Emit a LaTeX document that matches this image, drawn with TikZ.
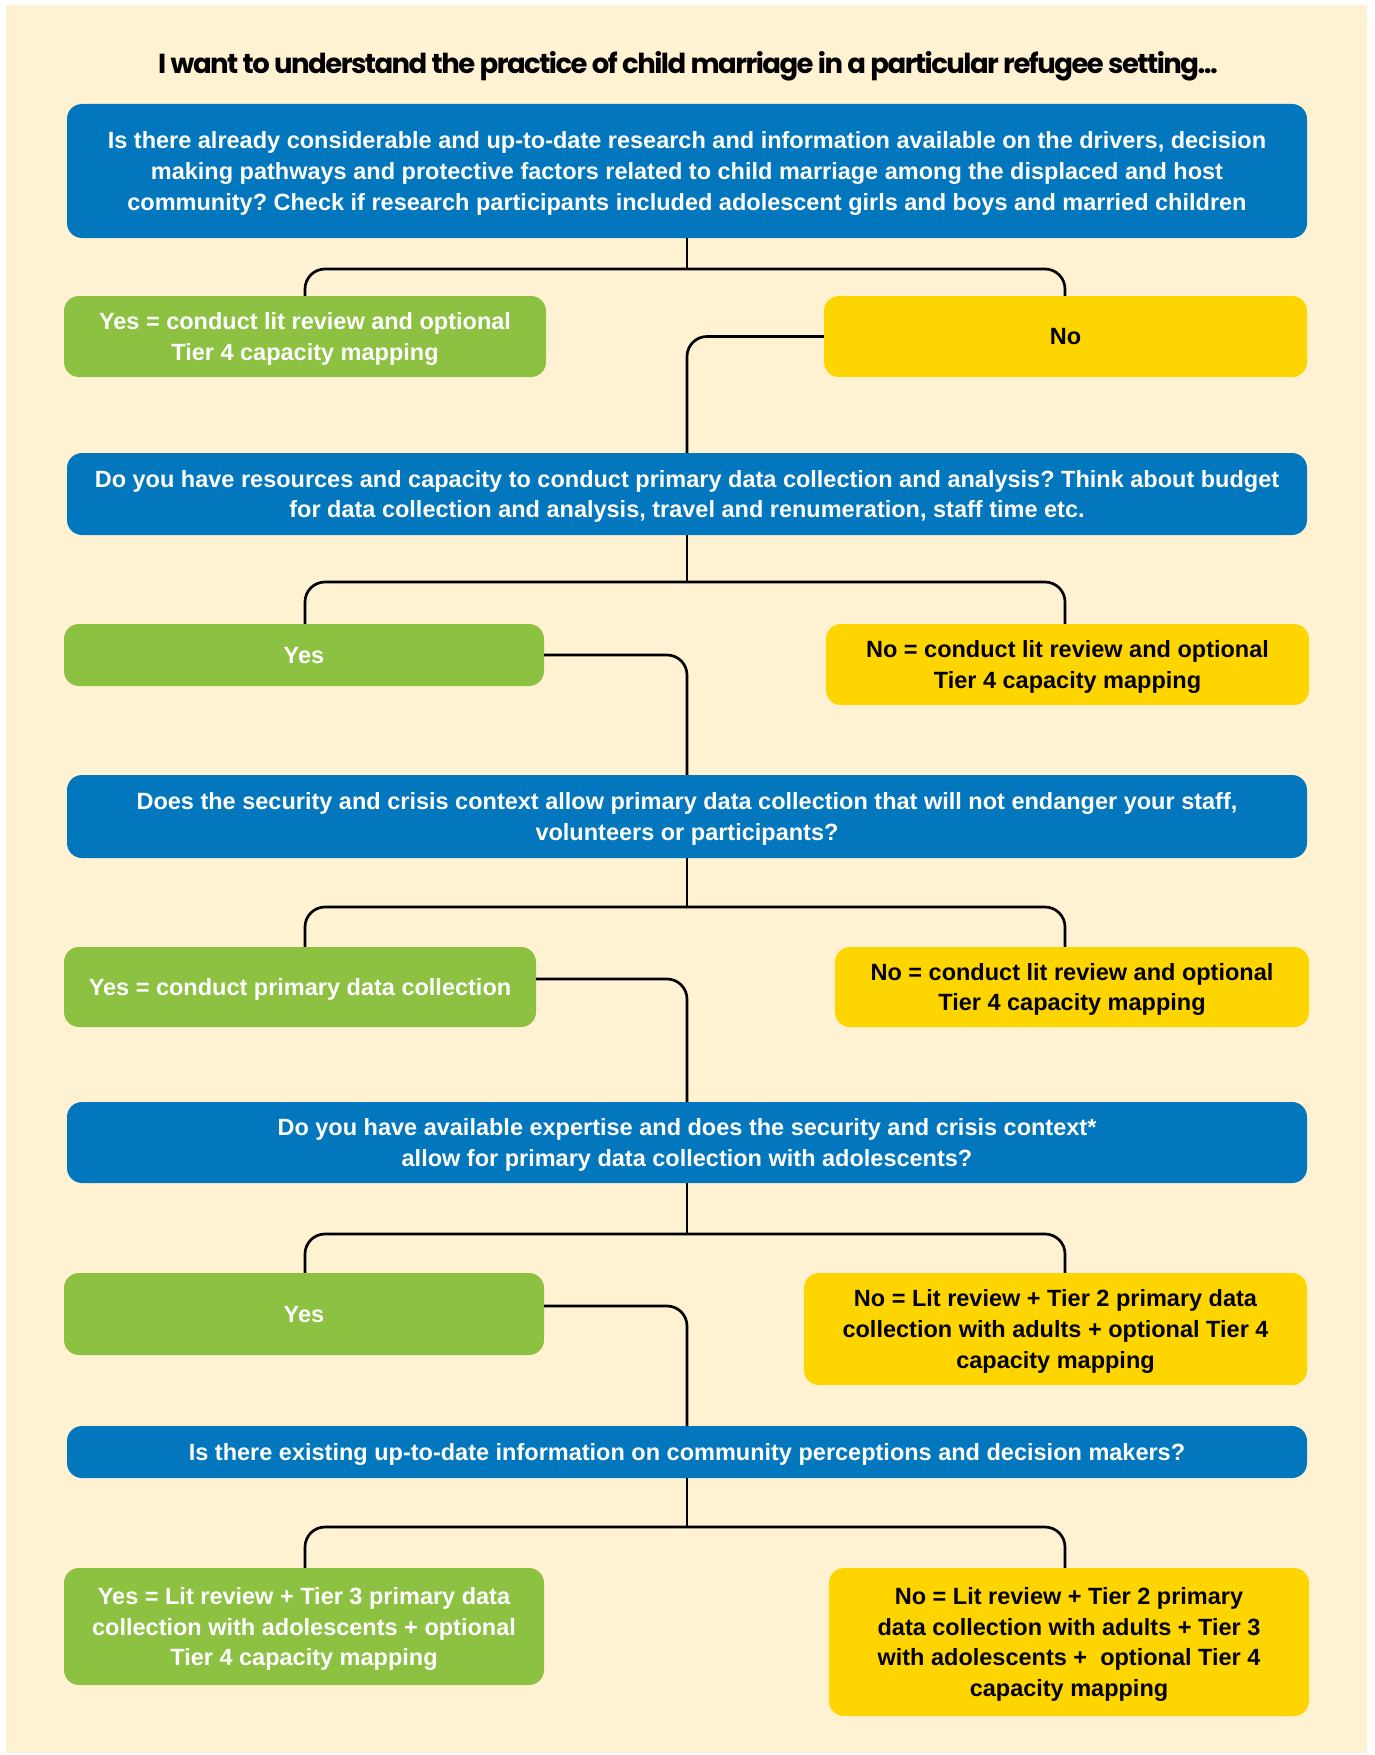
\documentclass[tikz,border=0pt]{standalone}
\usepackage{fontspec}
\setmainfont{Liberation Sans}
\newfontfamily\titlefont[LetterSpace=-5.5]{Poppins}
\frenchspacing
\definecolor{cream}{RGB}{255,242,211}
\definecolor{qblue}{RGB}{2,119,190}
\definecolor{ygreen}{RGB}{141,193,66}
\definecolor{nyellow}{RGB}{255,213,0}

\tikzset{
  box/.style={rounded corners=15pt, align=center, inner sep=0pt, text depth=0pt,
    font=\fontsize{23.5}{30.8}\selectfont\bfseries},
  qbox/.style={box, fill=qblue, text=white, minimum width=1240pt},
  yesbox/.style={box, fill=ygreen, text=white},
  nobox/.style={box, fill=nyellow, text=black},
  link/.style={line width=2.7pt, rounded corners=20pt}
}

\begin{document}
\begin{tikzpicture}[x=1pt,y=-1pt]
\useasboundingbox (0,0) rectangle (1375,1755);
\fill[cream] (6,5) rectangle (1367,1753);

\node (title) at (688,66) {\titlefont\bfseries\fontsize{27.5}{30}\selectfont I want to understand the practice of child marriage in a particular refugee setting...};

\node[qbox, minimum height=134pt] (q1) at (687,171) {Is there already considerable and up-to-date research and information available on the drivers, decision\\
making pathways and protective factors related to child marriage among the displaced and host\\
community? Check if research participants included adolescent girls and boys and married children};
\node[yesbox, minimum width=482pt, minimum height=81pt] (yes1) at (305,336.5) {Yes = conduct lit review and optional\\ Tier 4 capacity mapping};
\node[nobox, minimum width=483pt, minimum height=81pt] (no1) at (1065.5,336.5) {No};

\node[qbox, minimum height=82pt] (q2) at (687,494) {Do you have resources and capacity to conduct primary data collection and analysis? Think about budget\\
for data collection and analysis, travel and renumeration, staff time etc.};
\node[yesbox, minimum width=480pt, minimum height=62pt] (yes2) at (304,655) {Yes};
\node[nobox, minimum width=483pt, minimum height=81pt] (no2) at (1067.5,664.5) {No = conduct lit review and optional\\ Tier 4 capacity mapping};

\node[qbox, minimum height=83pt] (q3) at (687,816.5) {Does the security and crisis context allow primary data collection that will not endanger your staff,\\
volunteers or participants?};
\node[yesbox, minimum width=472pt, minimum height=80pt] (yes3) at (300,987) {Yes = conduct primary data collection};
\node[nobox, minimum width=474pt, minimum height=80pt] (no3) at (1072,987) {No = conduct lit review and optional\\ Tier 4 capacity mapping};

\node[qbox, minimum height=81pt] (q4) at (687,1142.5) {Do you have available expertise and does the security and crisis context*\\
allow for primary data collection with adolescents?};
\node[yesbox, minimum width=480pt, minimum height=82pt] (yes4) at (304,1314) {Yes};
\node[nobox, minimum width=503pt, minimum height=112pt] (no4) at (1055.5,1329) {No = Lit review + Tier 2 primary data\\ collection with adults + optional Tier 4\\ capacity mapping};

\node[qbox, minimum height=52pt] (q5) at (687,1452) {Is there existing up-to-date information on community perceptions and decision makers?};
\node[yesbox, minimum width=480pt, minimum height=117pt] (yes5) at (304,1626.5) {Yes = Lit review + Tier 3 primary data\\ collection with adolescents + optional\\ Tier 4 capacity mapping};
\node[nobox, minimum width=480pt, minimum height=148pt] (no5) at (1069,1642) {No = Lit review + Tier 2 primary\\ data collection with adults + Tier 3\\ with adolescents + \ optional Tier 4\\ capacity mapping};

\coordinate (L) at (305,0);
\coordinate (R) at (1065,0);
\coordinate (s1) at (687,269);
\coordinate (s2) at (687,582);
\coordinate (s3) at (687,907);
\coordinate (s4) at (687,1234);
\coordinate (s5) at (687,1527);

\draw[link] (q1.south) -- (s1);
\draw[link] (L |- yes1.north) |- (s1) -| (R |- no1.north);
\draw[link] (no1.west) -| (q2.north);

\draw[link] (q2.south) -- (s2);
\draw[link] (L |- yes2.north) |- (s2) -| (R |- no2.north);
\draw[link] (yes2.east) -| (q3.north);

\draw[link] (q3.south) -- (s3);
\draw[link] (L |- yes3.north) |- (s3) -| (R |- no3.north);
\draw[link] ([yshift=8pt]yes3.east) -| (q4.north);

\draw[link] (q4.south) -- (s4);
\draw[link] (L |- yes4.north) |- (s4) -| (R |- no4.north);
\draw[link] ([yshift=8pt]yes4.east) -| (q5.north);

\draw[link] (q5.south) -- (s5);
\draw[link] (L |- yes5.north) |- (s5) -| (R |- no5.north);
\end{tikzpicture}
\end{document}
